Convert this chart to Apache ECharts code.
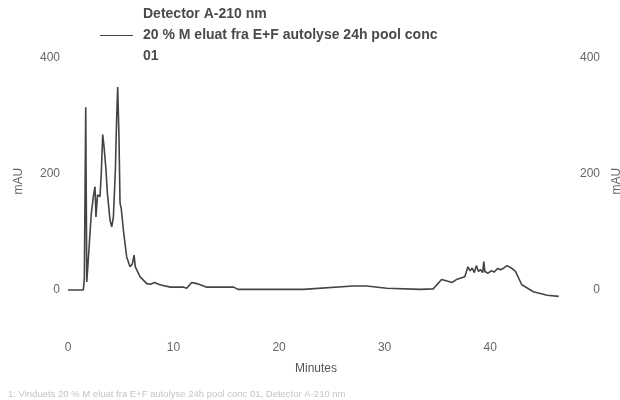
<!DOCTYPE html>
<html>
<head>
<meta charset="utf-8">
<script src="https://cdn.jsdelivr.net/npm/echarts@6/dist/echarts.min.js"></script>
<style>html,body{margin:0;padding:0;background:#fff;}#c{width:620px;height:400px;}</style>
</head>
<body>
<div id="c"></div>
<script>
var minutes = [0, 1.45, 1.55, 1.68, 1.78, 1.95, 2.2, 2.4, 2.56, 2.65, 2.8, 3.03, 3.15, 3.29, 3.4, 3.6, 3.73, 3.98, 4.14, 4.3, 4.49, 4.6, 4.71, 4.83, 4.93, 5.05, 5.25, 5.56, 5.88, 6.1, 6.26, 6.38, 6.82, 7.46, 7.8, 8.2, 8.7, 9.7, 10.9, 11.25, 11.72, 12.2, 13.1, 15.7, 16.1, 22.3, 27, 28.3, 30.2, 33.4, 34.6, 35.4, 36.4, 36.8, 37.6, 37.9, 38.1, 38.3, 38.5, 38.7, 38.9, 39.1, 39.3, 39.4, 39.5, 39.8, 40.1, 40.4, 40.7, 41.0, 41.3, 41.6, 42.0, 42.4, 43, 44.1, 45.4, 46.5];
var mAU = [0, 0, 20, 315, 14, 60, 130, 161, 178, 126, 164, 161, 200, 268, 250, 207, 167, 121, 109, 125, 207, 290, 350, 264, 150, 140, 103, 57, 40, 45, 60, 40, 23, 11, 10, 13, 9, 5, 5, 3, 13, 11, 5, 5, 1, 1, 7, 7, 3, 1, 2, 18, 13, 18, 23, 40, 33, 38, 30, 42, 32, 35, 30, 49, 32, 29, 33, 31, 37, 35, 38, 42, 38, 32, 9, -3, -9, -11];
var xTicks = [0, 10, 20, 30, 40];
var yTicks = [0, 200, 400];
var seriesName = 'Detector A-210 nm\n20 % M eluat fra E+F autolyse 24h pool conc\n01';
var footer = '1: Vinduets 20 % M eluat fra E+F autolyse 24h pool conc 01, Detector A-210 nm';

var pts = minutes.map(function (t, i) { return [t, mAU[i]]; });
var font = 'Liberation Sans, Arial, sans-serif';
function yFmt(v) { return yTicks.indexOf(v) >= 0 ? String(v) : ''; }
function xFmt(v) { return xTicks.indexOf(v) >= 0 ? String(v) : ''; }

var chart = echarts.init(document.getElementById('c'), null, {renderer: 'canvas'});
chart.setOption({
  animation: false,
  backgroundColor: '#fff',
  grid: {left: 68, top: 58, width: 496, height: 246.5, containLabel: false, outerBoundsMode: 'none'},
  legend: {
    left: 100, top: 4, padding: 0,
    icon: 'rect', itemWidth: 33, itemHeight: 1.2,
    textStyle: {fontFamily: font, fontSize: 14, fontWeight: 'bold', color: '#4a4a4a', lineHeight: 21, padding: [0, 0, 0, 5]},
    data: [seriesName]
  },
  xAxis: {
    type: 'value', min: 0, max: 47, interval: 10,
    name: 'Minutes', nameLocation: 'middle', nameGap: 58,
    nameTextStyle: {fontFamily: font, fontSize: 12, color: '#555'},
    axisLine: {show: false}, axisTick: {show: false}, splitLine: {show: false},
    axisLabel: {margin: 37, fontFamily: font, fontSize: 12, color: '#666', formatter: xFmt}
  },
  yAxis: [{
    type: 'value', min: -25, max: 400, interval: 25, position: 'left',
    name: 'mAU', nameLocation: 'middle', nameGap: 43, nameRotate: 90,
    nameTextStyle: {fontFamily: font, fontSize: 12, color: '#666'},
    axisLine: {show: false}, axisTick: {show: false}, splitLine: {show: false},
    axisLabel: {margin: 8, fontFamily: font, fontSize: 12, color: '#666', formatter: yFmt}
  }, {
    type: 'value', min: -25, max: 400, interval: 25, position: 'right',
    name: 'mAU', nameLocation: 'middle', nameGap: 40, nameRotate: 90,
    nameTextStyle: {fontFamily: font, fontSize: 12, color: '#666'},
    axisLine: {show: false}, axisTick: {show: false}, splitLine: {show: false},
    axisLabel: {margin: 36, align: 'right', fontFamily: font, fontSize: 12, color: '#666', formatter: yFmt}
  }],
  graphic: [{
    type: 'text', left: 8, top: 389,
    style: {text: footer, fontFamily: font, fontSize: 9.5, fill: '#c4c4c4'}
  }],
  series: [{
    name: seriesName, type: 'line', data: pts, showSymbol: false, symbol: 'none',
    lineStyle: {color: '#444', width: 1.6}, itemStyle: {color: '#444'}
  }]
});
</script>
</body>
</html>
